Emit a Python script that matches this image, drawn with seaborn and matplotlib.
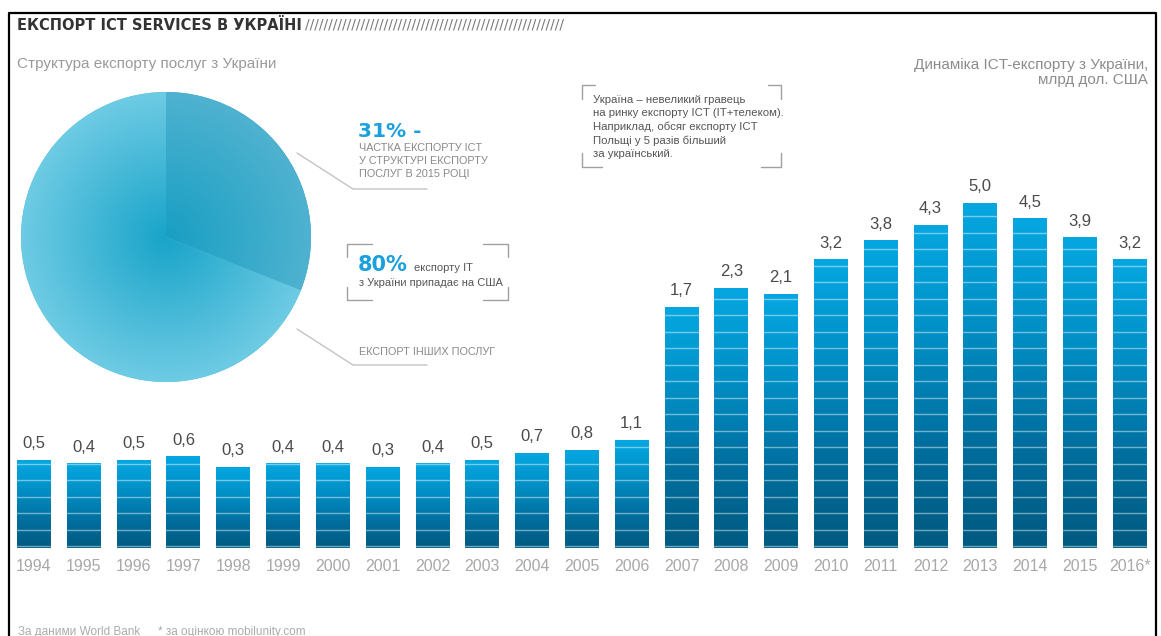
import numpy as np
import pandas as pd
import matplotlib
matplotlib.use("Agg")
import matplotlib.pyplot as plt
import seaborn as sns
from matplotlib.colors import LinearSegmentedColormap
from matplotlib.lines import Line2D

# ---- data ----
years = ["1994", "1995", "1996", "1997", "1998", "1999", "2000", "2001",
         "2002", "2003", "2004", "2005", "2006", "2007", "2008", "2009",
         "2010", "2011", "2012", "2013", "2014", "2015", "2016*"]
exports = [0.5, 0.4, 0.5, 0.6, 0.3, 0.4, 0.4, 0.3, 0.4, 0.5, 0.7, 0.8,
           1.1, 1.7, 2.3, 2.1, 3.2, 3.8, 4.3, 5.0, 4.5, 3.9, 3.2]
structure_labels = ["ICT", "Інші послуги"]
structure_shares = [31, 69]

# piecewise value axis (infographic-style, non-proportional)
scale_values = np.array([0.0, 0.3, 1.1, 1.7, 5.0, 10.0])
scale_pixels = np.array([0.0, 81.0, 108.0, 241.0, 345.0, 502.5])


def fwd(v):
    return np.interp(v, scale_values, scale_pixels)


def inv(p):
    return np.interp(p, scale_pixels, scale_values)


sns.set_style("white")
plt.rcParams["font.family"] = ["Liberation Sans", "DejaVu Sans"]

W, H = 1161, 636
fig = plt.figure(figsize=(W / 100, H / 100), dpi=100)


def fx(x):
    return x / W


def fy(y):
    return 1 - y / H


# ---- bar chart ----
Y_TOP = 6.5
axes_h = fwd(Y_TOP)
ax = fig.add_axes([9.1 / W, 88 / H, 1145.6 / W, axes_h / H])
df = pd.DataFrame({"year": years, "value": exports})
sns.barplot(data=df, x="year", y="value", color="#0090c8", width=0.68,
            saturation=1, ax=ax)
ax.set_yscale("function", functions=(fwd, inv))
ax.set_xlim(-0.5, len(years) - 0.5)
ax.set_ylim(0, Y_TOP)

# vertical gradient inside every bar (drawn in axes space)
bar_cmap = LinearSegmentedColormap.from_list(
    "bar", ["#005a80", "#0070a0", "#0090c6", "#06a7e1"])
grad = np.linspace(0, 1, 256).reshape(-1, 1)
to_axes = ax.transData + ax.transAxes.inverted()
for patch in list(ax.patches):
    x0, w, h = patch.get_x(), patch.get_width(), patch.get_height()
    (ax0, ay0), (ax1, ay1) = to_axes.transform([(x0, 0), (x0 + w, h)])
    ax.imshow(grad, cmap=bar_cmap, origin="lower", aspect="auto",
              extent=(ax0, ax1, ay0, ay1), transform=ax.transAxes,
              clip_path=patch, zorder=patch.get_zorder() + 0.1,
              interpolation="bilinear")

# light horizontal stripes across the bars
for k in range(21):
    yf = (2 + 16.5 * k) / axes_h
    ax.plot([0, 1], [yf, yf], transform=ax.transAxes, color="white",
            alpha=0.45, lw=1.0, zorder=3)

for i, v in enumerate(exports):
    ax.annotate(f"{v:.1f}".replace(".", ","), (i, v), xytext=(0, 6.5),
                textcoords="offset points", ha="center", va="bottom",
                fontsize=12, color="#4a4a4a", zorder=5)

ax.set_xlim(-0.5, len(years) - 0.5)
ax.set_ylim(0, Y_TOP)
ax.set_yticks([])
ax.set_xlabel("")
ax.set_ylabel("")
ax.tick_params(axis="x", length=0, pad=8, labelsize=11.5, labelcolor="#a8a8a8")
for s in ax.spines.values():
    s.set_visible(False)
ax.patch.set_alpha(0)

# ---- pie chart ----
R = 145
pad = 1.05
pax = fig.add_axes([fx(166 - R * pad), fy(237 + R * pad),
                    2 * R * pad / W, 2 * R * pad / H])
wedges, _ = pax.pie(structure_shares, startangle=90, counterclock=False,
                    colors=["#2aa6c9", "#4fbfdc"],
                    wedgeprops=dict(linewidth=0))
yy, xx = np.mgrid[-1:1:500j, -1:1:500j]
rr = np.hypot(xx, yy)
pie_grads = [("#189fc3", "#4fb2d0"), ("#18a4c9", "#6ecbe4")]
for wedge, (c0, c1) in zip(wedges, pie_grads):
    cm = LinearSegmentedColormap.from_list("pie", [c0, c1])
    pax.imshow(rr, cmap=cm, vmin=0, vmax=1, extent=(-1, 1, -1, 1),
               origin="lower", clip_path=wedge, zorder=2,
               interpolation="bilinear")
pax.set_xlim(-pad, pad)
pax.set_ylim(-pad, pad)
pax.set_aspect("equal")
pax.axis("off")

# ---- leader lines from the pie ----
LINE_C = "#c4c4c4"
fig.add_artist(Line2D([fx(297), fx(353), fx(427)], [fy(153), fy(189), fy(189)],
                      transform=fig.transFigure, color=LINE_C, lw=1))
fig.add_artist(Line2D([fx(297), fx(353), fx(427)], [fy(329), fy(365), fy(365)],
                      transform=fig.transFigure, color=LINE_C, lw=1))


def bracket_box(x0, y0, x1, y1, arm_top, arm_bottom, arm_v, color="#a0a0a0"):
    segs = [
        ([x0 + arm_top, x0, x0], [y0, y0, y0 + arm_v]),
        ([x1 - arm_top, x1, x1], [y0, y0, y0 + arm_v]),
        ([x0, x0, x0 + arm_bottom], [y1 - arm_v, y1, y1]),
        ([x1, x1, x1 - arm_bottom], [y1 - arm_v, y1, y1]),
    ]
    for xs, ys in segs:
        fig.add_artist(Line2D([fx(v) for v in xs], [fy(v) for v in ys],
                              transform=fig.transFigure, color=color, lw=1))


bracket_box(347, 244, 508, 300, 25, 25, 13)
bracket_box(582, 85, 781, 167, 13, 20, 14)

# ---- texts ----
BLUE = "#1aa0dc"
fig.text(fx(17), fy(25), "ЕКСПОРТ ICT SERVICES В УКРАЇНІ", fontsize=10.5,
         fontweight="bold", color="#333333", va="center", ha="left",
         family=["DejaVu Sans"])
fig.text(fx(305), fy(25), "/" * 56, fontsize=10, color="#7a7a7a",
         va="center", ha="left", family=["DejaVu Sans"])

fig.text(fx(17), fy(64), "Структура експорту послуг з України", fontsize=11,
         color="#9a9a9a", va="center", ha="left")
fig.text(fx(1148), fy(65), "Динаміка ICT-експорту з України,", fontsize=11,
         color="#8c8c8c", va="center", ha="right")
fig.text(fx(1148), fy(80), "млрд дол. США", fontsize=11,
         color="#8c8c8c", va="center", ha="right")

fig.text(fx(358), fy(132), "31% -", fontsize=14.5, fontweight="bold",
         color=BLUE, va="center", ha="left", family=["DejaVu Sans"])
for j, line in enumerate(["ЧАСТКА ЕКСПОРТУ ICT", "У СТРУКТУРІ ЕКСПОРТУ",
                          "ПОСЛУГ В 2015 РОЦІ"]):
    fig.text(fx(359), fy(148 + 13 * j), line, fontsize=7.8, color="#8a8a8a",
             va="center", ha="left")

fig.text(fx(358), fy(265), "80%", fontsize=15, fontweight="bold",
         color=BLUE, va="center", ha="left", family=["DejaVu Sans"])
fig.text(fx(414), fy(268), "експорту IT", fontsize=8, color="#555555",
         va="center", ha="left")
fig.text(fx(359), fy(283), "з України припадає на США", fontsize=8,
         color="#555555", va="center", ha="left")

fig.text(fx(359), fy(352), "ЕКСПОРТ ІНШИХ ПОСЛУГ", fontsize=7.8,
         color="#8a8a8a", va="center", ha="left")

note_lines = ["Україна – невеликий гравець",
              "на ринку експорту ICT (IT+телеком).",
              "Наприклад, обсяг експорту ICT",
              "Польщі у 5 разів більший",
              "за український."]
for j, line in enumerate(note_lines):
    fig.text(fx(593), fy(100 + 13.5 * j), line, fontsize=8.2, color="#555555",
             va="center", ha="left")

fig.text(fx(18), fy(632), "За даними World Bank", fontsize=8.5,
         color="#ababab", va="center", ha="left")
fig.text(fx(158), fy(632), "* за оцінкою mobilunity.com", fontsize=8.5,
         color="#ababab", va="center", ha="left")

# ---- frame ----
fig.add_artist(Line2D([fx(9), fx(9), fx(1156), fx(1156)], [0, fy(13), fy(13), 0],
                      transform=fig.transFigure, color="black", lw=1.6))

fig.savefig("out.png", dpi=100)
